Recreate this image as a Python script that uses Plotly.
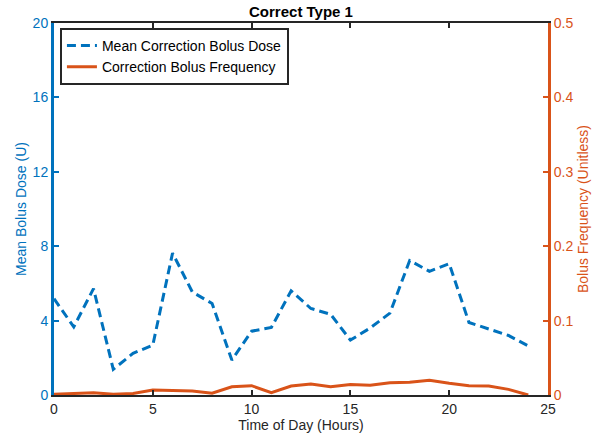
import plotly.graph_objects as go

hours = list(range(25))
mean_dose = [5.18, 3.66, 5.72, 1.38, 2.24, 2.68, 7.63, 5.54, 4.92, 1.88, 3.43, 3.63,
             5.6, 4.65, 4.34, 2.95, 3.6, 4.4, 7.23, 6.65, 7.06, 3.9, 3.55, 3.2, 2.64]
frequency = [0.001, 0.002, 0.003, 0.001, 0.002, 0.0067, 0.006, 0.0055, 0.0023, 0.011,
             0.0125, 0.003, 0.012, 0.0147, 0.011, 0.014, 0.013, 0.0165, 0.017, 0.0197,
             0.0157, 0.0125, 0.012, 0.0076, 0.0]

x_ticks = [0, 5, 10, 15, 20, 25]
y_ticks = [0, 4, 8, 12, 16, 20]
y2_ticks = [0, 0.1, 0.2, 0.3, 0.4, 0.5]
y2_labels = ["0", "0.1", "0.2", "0.3", "0.4", "0.5"]

BLUE = "#0072BD"
ORANGE = "#D95319"
FONT = "Liberation Sans, Arial, Helvetica, sans-serif"

fig = go.Figure()
fig.add_trace(go.Scatter(x=hours, y=mean_dose, mode="lines", name="Mean Correction Bolus Dose",
                         line=dict(color=BLUE, width=3, dash="9px,5px")))
fig.add_trace(go.Scatter(x=hours, y=frequency, mode="lines", name="Correction Bolus Frequency",
                         line=dict(color=ORANGE, width=3), yaxis="y2"))

fig.update_layout(
    width=604, height=437,
    margin=dict(l=54, r=56, t=23, b=42, autoexpand=False),
    paper_bgcolor="white", plot_bgcolor="white",
    font=dict(family=FONT, size=14, color="#262626"),
    title=dict(text="<b>Correct Type 1</b>", x=0.5, xref="paper", xanchor="center",
               y=1 - 12 / 437, yref="container", yanchor="middle",
               font=dict(size=15, color="#000000"), automargin=False),
    showlegend=True,
    legend=dict(x=0.012, y=0.987, xanchor="left", yanchor="top",
                bgcolor="white", bordercolor="#262626", borderwidth=2,
                font=dict(size=14, color="#000000"), itemwidth=30,
                tracegroupgap=0),
    xaxis=dict(range=[0, 25], tickvals=x_ticks, ticks="inside", ticklen=5, tickwidth=2,
               tickcolor="#262626", showline=True, linecolor="#262626", linewidth=2,
               mirror="ticks", showgrid=False, zeroline=False, automargin=False,
               title=dict(text="Time of Day (Hours)", standoff=4,
                          font=dict(size=14, color="#262626")),
               tickfont=dict(size=14, color="#262626")),
    yaxis=dict(range=[0, 20], tickvals=y_ticks, ticks="inside", ticklen=5, tickwidth=2,
               tickcolor=BLUE, showline=True, linecolor=BLUE, linewidth=3,
               showgrid=False, zeroline=False, automargin=False,
               title=dict(text="Mean Bolus Dose (U)", standoff=3,
                          font=dict(size=14, color=BLUE)),
               tickfont=dict(size=14, color=BLUE)),
    yaxis2=dict(range=[0, 0.5], tickvals=y2_ticks, ticktext=y2_labels, overlaying="y",
                side="right", ticks="inside", ticklen=5, tickwidth=2, tickcolor=ORANGE,
                showline=True, linecolor=ORANGE, linewidth=3, showgrid=False, zeroline=False,
                automargin=False,
                title=dict(text="Bolus Frequency (Unitless)", standoff=6,
                           font=dict(size=14, color=ORANGE)),
                tickfont=dict(size=14, color=ORANGE)),
)

fig.write_html("out.html", config={"displayModeBar": False},
               post_script="document.body.style.margin='0';document.body.style.overflow='hidden';")
